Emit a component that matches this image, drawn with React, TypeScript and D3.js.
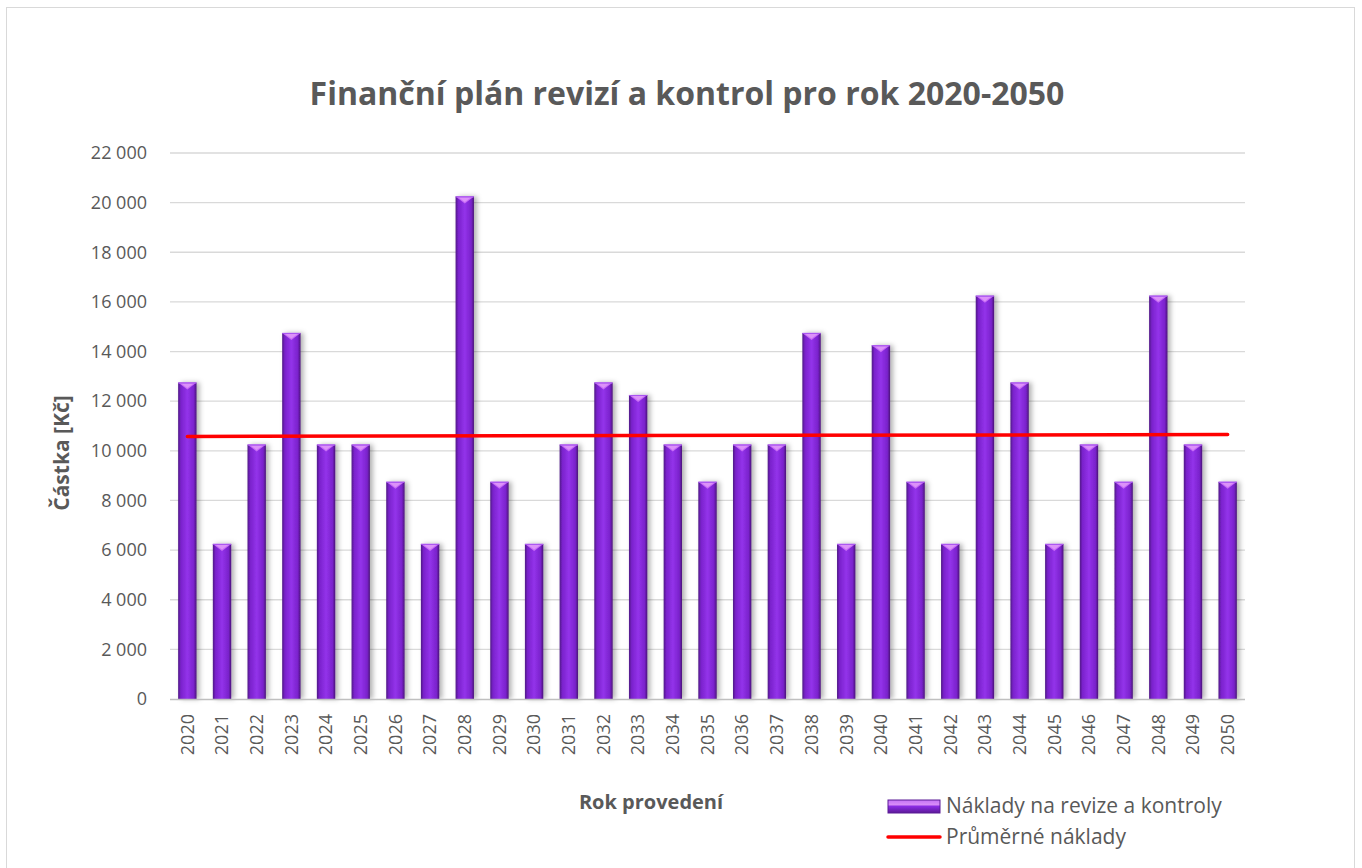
import React from "react";
import * as d3 from "d3";

const years = [
  "2020","2021","2022","2023","2024","2025","2026","2027","2028","2029","2030",
  "2031","2032","2033","2034","2035","2036","2037","2038","2039","2040",
  "2041","2042","2043","2044","2045","2046","2047","2048","2049","2050",
];
const costs = [
  12750, 6250, 10250, 14750, 10250, 10250, 8750, 6250, 20250, 8750, 6250,
  10250, 12750, 12250, 10250, 8750, 10250, 10250, 14750, 6250, 14250,
  8750, 6250, 16250, 12750, 6250, 10250, 8750, 16250, 10250, 8750,
];
// average-cost line, read at first and last year
const avgYears = ["2020", "2050"];
const avgValues = [10580, 10657];
const yTicks = [0, 2000, 4000, 6000, 8000, 10000, 12000, 14000, 16000, 18000, 20000, 22000];

const W = 1362, H = 868;
const left = 170, right = 1245, top = 153, bottom = 699;
const font = "'Open Sans', 'Noto Sans', sans-serif";
const textColor = "#595959";

const fmt = (v: number) => d3.format(",")(v).replace(/,/g, " ");

export default function App() {
  const x = d3.scaleBand<string>().domain(years).range([left, right]).paddingInner(0.47).paddingOuter(0.235);
  const y = d3.scaleLinear().domain([0, 22000]).range([bottom, top]);
  const bw = x.bandwidth();
  const line = d3.line<number>()
    .x((_, i) => (x(avgYears[i]) as number) + bw / 2)
    .y((d) => y(d));

  return (
    <svg width={W} height={H} style={{ position: "absolute", left: 0, top: 0, display: "block" }}>
      <defs>
        <linearGradient id="barGrad" x1="0" x2="1" y1="0" y2="0">
          <stop offset="0" stopColor="#4f1a85" />
          <stop offset="0.15" stopColor="#7a22cc" />
          <stop offset="0.5" stopColor="#9333ea" />
          <stop offset="0.85" stopColor="#7a22cc" />
          <stop offset="1" stopColor="#4a1478" />
        </linearGradient>
        <linearGradient id="legGrad" x1="0" x2="0" y1="0" y2="1">
          <stop offset="0" stopColor="#c471f5" />
          <stop offset="0.35" stopColor="#d88cf8" />
          <stop offset="0.5" stopColor="#8a2be2" />
          <stop offset="1" stopColor="#5b1a96" />
        </linearGradient>
        <filter id="shadow" x="-50%" y="-10%" width="200%" height="120%">
          <feDropShadow dx="3" dy="0" stdDeviation="2.5" floodColor="#000" floodOpacity="0.3" />
        </filter>
      </defs>
      <rect x={6.5} y={7.5} width={1348} height={870} fill="#fff" stroke="#d9d9d9" strokeWidth={1} />

      <text x={687} y={105} textAnchor="middle" fontFamily={font} fontWeight={700} fontSize={32} fill={textColor}>
        Finanční plán revizí a kontrol pro rok 2020-2050
      </text>

      {yTicks.map((t) => (
        <g key={t}>
          {t > 0 && <line x1={left} x2={right} y1={y(t)} y2={y(t)} stroke="#d9d9d9" strokeWidth={1.3} />}
          <text x={147} y={y(t)} dy="0.35em" textAnchor="end" fontFamily={font} fontSize={18} fill={textColor}>
            {fmt(t)}
          </text>
        </g>
      ))}

      {years.map((yr, i) => {
        const bx = x(yr) as number;
        const by = y(costs[i]);
        const cx = bx + bw / 2;
        return (
          <g key={yr}>
            <g filter="url(#shadow)">
              <rect x={bx} y={by} width={bw} height={bottom - by} fill="url(#barGrad)" />
            </g>
            <polygon points={`${bx},${by} ${bx + bw},${by} ${cx},${by + 7}`} fill="#c86ef6" />
            <polygon points={`${bx + 3},${by + 1} ${bx + bw - 3},${by + 1} ${cx},${by + 5.5}`} fill="#dc92f9" />
            <line x1={bx} x2={bx + bw} y1={by + 0.5} y2={by + 0.5} stroke="#a855f0" strokeWidth={1} />
          </g>
        );
      })}

      <line x1={left} x2={right} y1={bottom + 0.5} y2={bottom + 0.5} stroke="#bfbfbf" strokeWidth={1.5} />

      <path d={line(avgValues) || ""} fill="none" stroke="#ff0000" strokeWidth={3.5} strokeLinecap="round" />

      {years.map((yr) => {
        const cx = (x(yr) as number) + bw / 2;
        return (
          <text key={yr} transform={`translate(${cx},${714}) rotate(-90)`} dy="0.35em" textAnchor="end"
            fontFamily={font} fontSize={18} fill={textColor}>
            {yr}
          </text>
        );
      })}

      <text transform={`translate(62,453) rotate(-90)`} dy="0.35em" textAnchor="middle"
        fontFamily={font} fontWeight={700} fontSize={21} fill={textColor}>
        Částka [Kč]
      </text>
      <text x={651} y={802} dy="0.35em" textAnchor="middle" fontFamily={font} fontWeight={700} fontSize={20} fill={textColor}>
        Rok provedení
      </text>

      <rect x={888} y={800} width={52} height={13} fill="url(#legGrad)" stroke="#5b1a96" strokeWidth={1} />
      <text x={946} y={806} dy="0.35em" fontFamily={font} fontSize={21} fill={textColor}>
        Náklady na revize a kontroly
      </text>
      <line x1={888} x2={940} y1={837} y2={837} stroke="#ff0000" strokeWidth={3.5} strokeLinecap="round" />
      <text x={946} y={837} dy="0.35em" fontFamily={font} fontSize={21} fill={textColor}>
        Průměrné náklady
      </text>
    </svg>
  );
}
